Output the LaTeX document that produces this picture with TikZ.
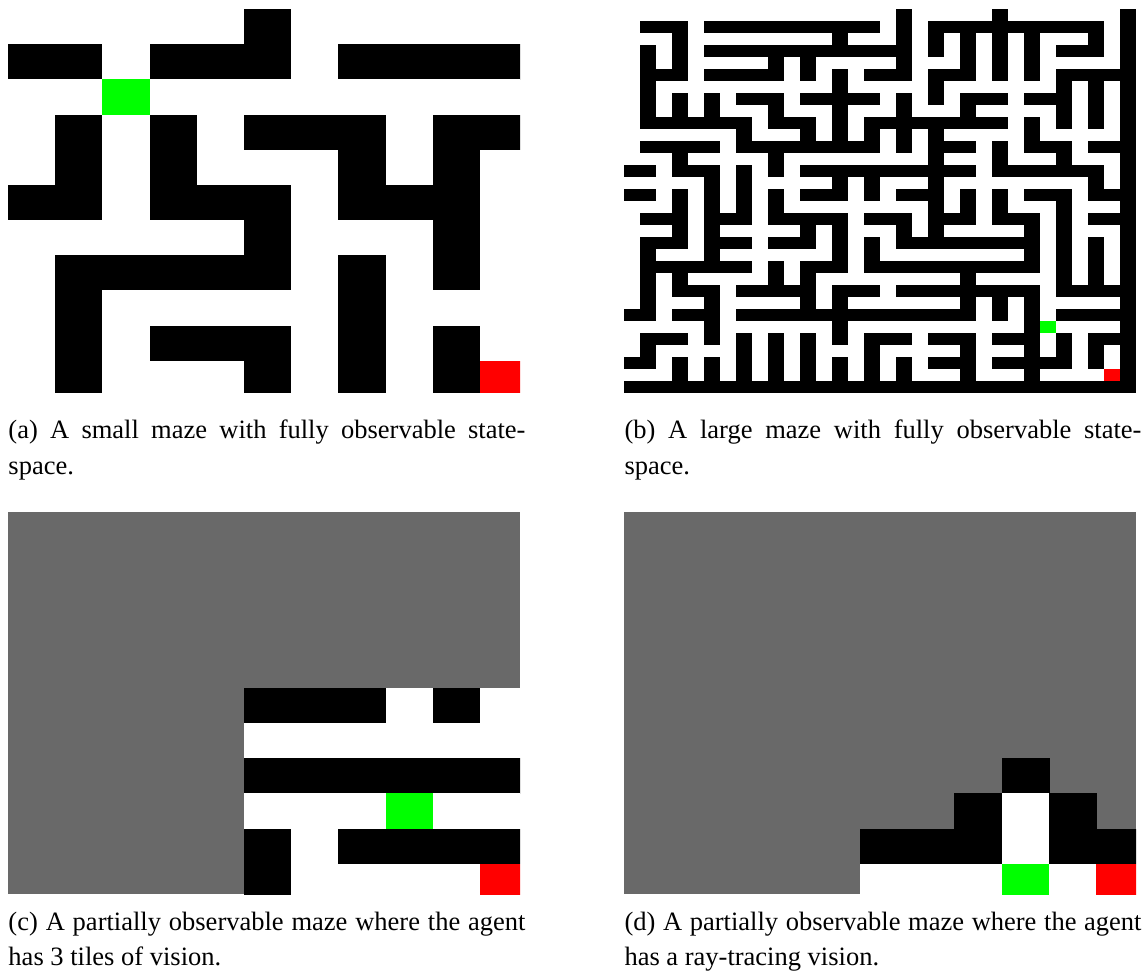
\documentclass[tikz,border=0pt]{standalone}
\usepackage{fontspec}
\setmainfont{Liberation Serif}
\definecolor{agentgreen}{RGB}{0,255,0}
\definecolor{goalred}{RGB}{255,0,0}
\definecolor{foggrey}{RGB}{105,105,105}
% one row of a maze: x wall, o open, g agent, r goal, u not seen
\newcount\mzcol
\newcommand\mazerow[2]{\def\mzrow{#1}\mzcol=0 \expandafter\mzscan#2\relax}
\newcommand\mzscan[1]{\ifx#1\relax\else\mzcell#1\advance\mzcol by 1 \expandafter\mzscan\fi}
\newcommand\mzcell[1]{%
  \if x#1\fill[wallcell] (\the\mzcol,\mzrow) rectangle ++(1.02,1.02);\fi
  \if o#1\fill[pathcell] (\the\mzcol,\mzrow) rectangle ++(1.02,1.02);\fi
  \if g#1\fill[agentcell] (\the\mzcol,\mzrow) rectangle ++(1.02,1.02);\fi
  \if r#1\fill[goalcell] (\the\mzcol,\mzrow) rectangle ++(1.02,1.02);\fi}
\begin{document}
\begin{tikzpicture}[x=0.4pt,y=-0.4pt,
    wallcell/.style={fill=black},
    pathcell/.style={fill=white},
    agentcell/.style={fill=agentgreen},
    goalcell/.style={fill=goalred},
    fog/.style={fill=foggrey},
    caption/.style={anchor=base west,inner sep=0pt,text width=206.8pt,align=justify,
      font=\fontsize{10.6pt}{14pt}\selectfont}]
  \useasboundingbox (0,0) rectangle (1146,978);
  % (a) small maze
  \begin{scope}[shift={(8,9)}]
    \clip (0,0) rectangle (512,384);
    \begin{scope}[x=18.88pt,y=-14.07pt]
      \foreach \cells [count=\mzr from 0] in {
        oooooxooooo, xxoxxxoxxxx, oogoooooooo, oxoxoxxxoxx,
        oxoxoooxoxo, xxoxxxoxxxo, oooooxoooxo, oxxxxxoxoxo,
        oxoooooxooo, oxoxxxoxoxo, oxoooxoxoxr}
        {\mazerow{\mzr}{\cells}}
    \end{scope}
  \end{scope}
  % (b) large maze
  \begin{scope}[shift={(624,9)},x=6.4pt,y=-4.8pt]
    \foreach \cells [count=\mzr from 0] in {
      oooooooo oooooooo oxooooox ooooooox,
      oxxxoxxx xxxxxxxx oxoxxxxx xxxxxxox,
      oooxoooo oooooxoo oxoxoxox oxoooxox,
      oxoxoxxx xxxxxxxx xxoxoxox oxoxxxox,
      oxoxoooo oxoxoooo oxoooxox oxooooox,
      oxxxoxxx xxoxoxox xxoxxxox oxoxxxxx,
      oxoooooo oooooxoo oooxoooo oooxoxox,
      oxoxoxox xxoxxxxx oxoxoxxx oxxxoxox,
      oxoxoxoo oxoooxoo oxoooxoo oooxoxox,
      oxxxxxxx oxxxoxox xxxxxxxx oxoxoxox,
      ooooooox oooxoxox oxoxoooo oxooooox,
      oxxxxxox xxxxxxxx oxoxxxox oxxxoxxx,
      oooxoooo oxoooooo oooxooox oooxooox,
      xxoxxxox oxoxxxxx xxxxxxox xxxxxxox,
      oooooxox oooooxox oooxoooo oooooxox,
      xxoxoxox oxoxxxox oxxxoxox oxxxoxxx,
      oooxoxox oxoooooo oooxoxox oooxooox,
      oxxxoxxx oxxxxxox xxoxxxox xxoxoxxx,
      oooxoxoo oooxoxoo oxoxoooo oxoxooox,
      oxxxoxxx oxxxoxox oxxxxxxx xxoxoxox,
      oxoooxoo oooooxox oooooooo oxoxoxox,
      oxxxxxxx oxoxxxox xxxxxxxx xxoxoxox,
      oxoxoooo oxoxoooo oooooxoo oooxoxox,
      oxoxxxox xxxxoxxx oxxxxxxx xxoxxxxx,
      oxoooxoo oooxoxoo oooooxox oxooooox,
      xxoxxxox xxxxxxxx xxxxxxox oxoxxxxx,
      oooooxoo oooooxoo oooooooo oxgoooox,
      oxxxoxox oxoxoxox xxoxxxox xxoxoxxx,
      oxooooox oxoxooox oooooxoo oxoxoxox,
      xxoxoxox oxoxoxox oxoxxxox xxxxoxox,
      oooxoxox oxoxoxox oxoooxoo oxoooorx,
      xxxxxxxx xxxxxxxx xxxxxxxx xxxxxxxx}
      {\mazerow{\mzr}{\cells}}
  \end{scope}
  % (c) three tiles of vision
  \begin{scope}[shift={(8,512)}]
    \clip (0,0) rectangle (512,382);
    \fill[fog] (0,0) rectangle (512,382);
    \begin{scope}[x=18.88pt,y=-14.07pt]
      \foreach \cells [count=\mzr from 0] in {
        uuuuuuuuuuu, uuuuuuuuuuu, uuuuuuuuuuu, uuuuuuuuuuu,
        uuuuuuuuuuu, uuuuuxxxoxo, uuuuuoooooo, uuuuuxxxxxx,
        uuuuuooogoo, uuuuuxoxxxx, uuuuuxoooor}
        {\mazerow{\mzr}{\cells}}
    \end{scope}
  \end{scope}
  % (d) ray-tracing vision
  \begin{scope}[shift={(624,512)}]
    \clip (0,0) rectangle (512,382);
    \fill[fog] (0,0) rectangle (512,382);
    \begin{scope}[x=18.88pt,y=-14.07pt]
      \foreach \cells [count=\mzr from 0] in {
        uuuuuuuuuuu, uuuuuuuuuuu, uuuuuuuuuuu, uuuuuuuuuuu,
        uuuuuuuuuuu, uuuuuuuuuuu, uuuuuuuuuuu, uuuuuuuuxuu,
        uuuuuuuxoxu, uuuuuxxxoxx, uuuuuooogor}
        {\mazerow{\mzr}{\cells}}
    \end{scope}
  \end{scope}
  \node[caption] (capa) at (8,439) {(a) A small maze with fully observable state-\linebreak space.};
  \node[caption] (capb) at (624,439) {(b) A large maze with fully observable state-\linebreak space.};
  \node[caption] (capc) at (8,930) {(c) A partially observable maze where the agent\linebreak has 3 tiles of vision.};
  \node[caption] (capd) at (624,930) {(d) A partially observable maze where the agent\linebreak has a ray-tracing vision.};
\end{tikzpicture}
\end{document}
